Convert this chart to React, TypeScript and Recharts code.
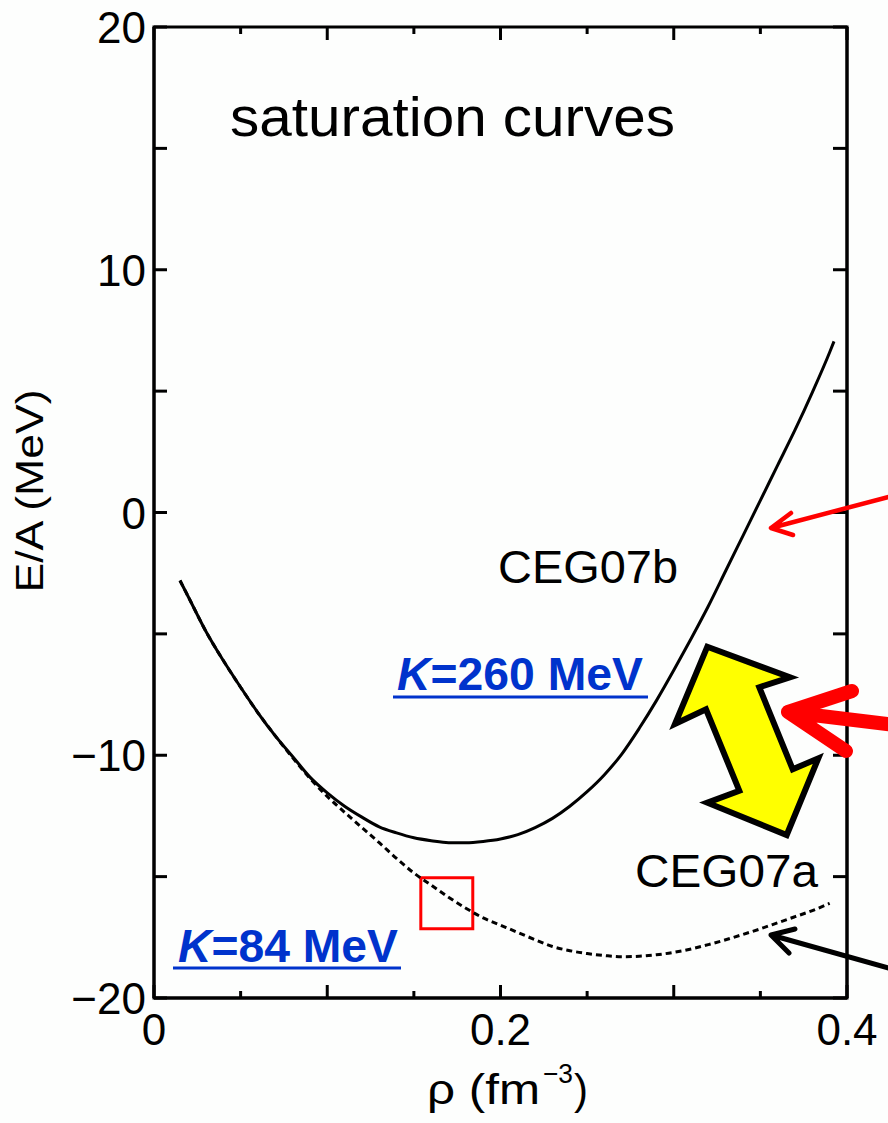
import React from "react";
import {
  LineChart,
  Line,
  XAxis,
  YAxis,
  ReferenceArea,
} from "recharts";

// ---- data ----
const rhoB = [0.015, 0.02, 0.03, 0.04, 0.05, 0.06, 0.07, 0.08, 0.09, 0.1, 0.11, 0.12, 0.13, 0.14, 0.15, 0.16, 0.17, 0.18, 0.19, 0.2, 0.21, 0.22, 0.23, 0.24, 0.25, 0.26, 0.27, 0.28, 0.29, 0.3, 0.31, 0.32, 0.33, 0.34, 0.35, 0.36, 0.37, 0.38, 0.39, 0.3925];
const eCEG07b = [-2.8, -3.5, -4.9, -6.1, -7.2, -8.25, -9.2, -10.05, -10.9, -11.55, -12.1, -12.55, -12.95, -13.2, -13.4, -13.52, -13.6, -13.6, -13.55, -13.45, -13.27, -12.98, -12.6, -12.1, -11.5, -10.8, -9.95, -8.9, -7.75, -6.5, -5.2, -3.85, -2.4, -0.95, 0.5, 1.95, 3.4, 4.95, 6.6, 7.05];

const rhoA = [0.015, 0.02, 0.03, 0.04, 0.05, 0.06, 0.07, 0.08, 0.09, 0.1, 0.11, 0.12, 0.13, 0.14, 0.15, 0.16, 0.17, 0.18, 0.19, 0.2, 0.21, 0.22, 0.23, 0.24, 0.25, 0.26, 0.27, 0.28, 0.29, 0.3, 0.31, 0.32, 0.33, 0.34, 0.35, 0.36, 0.37, 0.38, 0.39];
const eCEG07a = [-2.8, -3.5, -4.9, -6.1, -7.2, -8.25, -9.2, -10.1, -10.95, -11.7, -12.35, -12.98, -13.6, -14.25, -14.85, -15.35, -15.85, -16.3, -16.7, -17.0, -17.3, -17.6, -17.88, -18.05, -18.17, -18.25, -18.3, -18.28, -18.22, -18.12, -17.98, -17.8, -17.6, -17.38, -17.15, -16.9, -16.65, -16.4, -16.1];

const xTicks = [0, 0.05, 0.1, 0.15, 0.2, 0.25, 0.3, 0.35, 0.4];
const xLabelValues = [0, 0.2, 0.4];
const xLabelTexts = ["0", "0.2", "0.4"];
const yTicks = [-20, -15, -10, -5, 0, 5, 10, 15, 20];
const yLabelValues = [-20, -10, 0, 10, 20];
const yLabelTexts = ["\u221220", "\u221210", "0", "10", "20"];

const xDomain = [0, 0.4];
const yDomain = [-20, 20];

// saturation box (data coords)
const boxRho = [0.154, 0.184];
const boxE = [-15.05, -17.15];

const dataB = rhoB.map((r, i) => ({ rho: r, e: eCEG07b[i] }));
const dataA = rhoA.map((r, i) => ({ rho: r, e: eCEG07a[i] }));

// layout
const CHART_W = 888;
const CHART_H = 1123;
const MARGIN = { top: 27, right: 40, bottom: 65, left: 54 };
const X_AXIS_H = 60;
const PLOT_H = CHART_H - MARGIN.top - MARGIN.bottom - X_AXIS_H;

const FONT = "'Liberation Sans', Arial, Helvetica, sans-serif";
const BLUE = "#0033cc";

const near = (a: number, b: number) => Math.abs(a - b) < 1e-6;
const isMajorX = (v: number) => near(v * 10, Math.round(v * 10));

const BottomTick = (props: any) => {
  const { x, y, payload } = props;
  const v = payload.value as number;
  const len = isMajorX(v) ? 13 : 7;
  const li = xLabelValues.findIndex((lv) => near(lv, v));
  const yTop = y - PLOT_H;
  return (
    <g>
      <line x1={x} y1={y} x2={x} y2={y - len} stroke="#000" strokeWidth={3} />
      <line x1={x} y1={yTop} x2={x} y2={yTop + len} stroke="#000" strokeWidth={3} />
      {li >= 0 && (
        <text x={x} y={y + 47} textAnchor="middle" fontSize={44} fontFamily={FONT} fill="#000">
          {xLabelTexts[li]}
        </text>
      )}
    </g>
  );
};

const LeftTick = (props: any) => {
  const { x, y, payload } = props;
  const v = payload.value as number;
  const li = yLabelValues.findIndex((lv) => near(lv, v));
  return (
    <g>
      <line x1={x} y1={y} x2={x + 13} y2={y} stroke="#000" strokeWidth={3} />
      {li >= 0 && (
        <text x={x - 8} y={y + 16} textAnchor="end" fontSize={44} fontFamily={FONT} fill="#000">
          {yLabelTexts[li]}
        </text>
      )}
    </g>
  );
};

const RightTick = (props: any) => {
  const { x, y } = props;
  return <line x1={x} y1={y} x2={x - 14} y2={y} stroke="#000" strokeWidth={3} />;
};

const Overlay = () => (
  <svg
    width={CHART_W}
    height={CHART_H}
    style={{ position: "absolute", left: 0, top: 0, pointerEvents: "none" }}
  >
    <text x={230} y={136} fontSize={56} fontFamily={FONT} fill="#000" textLength={445} lengthAdjust="spacingAndGlyphs">
      saturation curves
    </text>
    <text x={498} y={583} fontSize={47} fontFamily={FONT} fill="#000" textLength={180} lengthAdjust="spacingAndGlyphs">
      CEG07b
    </text>
    <text x={635} y={887} fontSize={46} fontFamily={FONT} fill="#000" textLength={183} lengthAdjust="spacingAndGlyphs">
      CEG07a
    </text>

    {/* blue K labels */}
    <text x={397} y={690} fontSize={46} fontFamily={FONT} fontWeight="bold" fill={BLUE} textLength={246} lengthAdjust="spacingAndGlyphs">
      <tspan fontStyle="italic">K</tspan>=260 MeV
    </text>
    <line x1={393} y1={697} x2={648} y2={697} stroke={BLUE} strokeWidth={3} />
    <text x={178} y={962} fontSize={46} fontFamily={FONT} fontWeight="bold" fill={BLUE} textLength={220} lengthAdjust="spacingAndGlyphs">
      <tspan fontStyle="italic">K</tspan>=84 MeV
    </text>
    <line x1={173} y1={968} x2={401} y2={968} stroke={BLUE} strokeWidth={3} />

    {/* axis titles */}
    <text transform="translate(43,491) rotate(-90)" textAnchor="middle" fontSize={39} fontFamily={FONT} fill="#000" textLength={203} lengthAdjust="spacingAndGlyphs">
      E/A (MeV)
    </text>
    <text x={427} y={1104} fontSize={42} fontFamily={FONT} fill="#000" textLength={113} lengthAdjust="spacingAndGlyphs">
      ρ (fm
    </text>
    <text x={543} y={1083} fontSize={28} fontFamily={FONT} fill="#000" textLength={30} lengthAdjust="spacingAndGlyphs">
      −3
    </text>
    <text x={574} y={1104} fontSize={42} fontFamily={FONT} fill="#000">
      )
    </text>

    {/* yellow double arrow */}
    <polygon
      points="707.3,646.7 790,677.3 759.3,687.3 792.7,769.3 818.3,758.3 786.7,835 707.3,802.7 739.3,790.7 706,709.3 675,724"
      fill="#ffff00"
      stroke="#000"
      strokeWidth={6}
      strokeLinejoin="miter"
    />

    {/* thin red arrow */}
    <path d="M892,496 L771,528 M791,513 L771,528 L793,535" fill="none" stroke="#ff0000" strokeWidth={4.5} strokeLinecap="round" strokeLinejoin="round" />
    {/* thick red arrow */}
    <path d="M895,725 L788,712 M852,691 L788,712 L846,751" fill="none" stroke="#ff0000" strokeWidth={14} strokeLinecap="round" strokeLinejoin="round" />
    {/* black arrow */}
    <path d="M892,969 L771,935 M795,929 L771,935 L789,953" fill="none" stroke="#000" strokeWidth={5} strokeLinecap="round" strokeLinejoin="round" />
  </svg>
);

export default function App() {
  return (
    <div
      style={{
        position: "absolute",
        left: 0,
        top: 0,
        width: CHART_W,
        height: CHART_H,
        background: "#fdfefd",
        overflow: "hidden",
      }}
    >
      <LineChart width={CHART_W} height={CHART_H} margin={MARGIN}>
        <XAxis
          dataKey="rho"
          type="number"
          domain={xDomain}
          ticks={xTicks}
          interval={0}
          tickSize={0}
          tickMargin={0}
          tickLine={false}
          tick={BottomTick}
          height={X_AXIS_H}
          stroke="#000"
          strokeWidth={3}
          axisLine={{ stroke: "#000", strokeWidth: 3 }}
          allowDataOverflow
        />
        <YAxis
          type="number"
          domain={yDomain}
          ticks={yTicks}
          interval={0}
          tickSize={0}
          tickMargin={0}
          tickLine={false}
          tick={LeftTick}
          width={100}
          stroke="#000"
          strokeWidth={3}
          axisLine={{ stroke: "#000", strokeWidth: 3 }}
          allowDataOverflow
        />
        <YAxis
          yAxisId="right"
          orientation="right"
          type="number"
          domain={yDomain}
          ticks={yTicks}
          interval={0}
          tickSize={0}
          tickMargin={0}
          tickLine={false}
          tick={RightTick}
          width={1}
          stroke="#000"
          strokeWidth={3}
          axisLine={{ stroke: "#000", strokeWidth: 3 }}
          allowDataOverflow
        />
        <ReferenceArea
          x1={xDomain[0]}
          x2={xDomain[1]}
          y1={yDomain[0]}
          y2={yDomain[1]}
          fill="none"
          fillOpacity={0}
          stroke="#000"
          strokeWidth={3}
          ifOverflow="visible"
        />
        <ReferenceArea
          x1={boxRho[0]}
          x2={boxRho[1]}
          y1={boxE[0]}
          y2={boxE[1]}
          fill="none"
          fillOpacity={0}
          stroke="#ff0000"
          strokeWidth={3}
          ifOverflow="visible"
        />
        <Line
          data={dataB}
          dataKey="e"
          type="monotone"
          stroke="#000"
          strokeWidth={3}
          dot={false}
          isAnimationActive={false}
        />
        <Line
          data={dataA}
          dataKey="e"
          type="monotone"
          stroke="#000"
          strokeWidth={3}
          strokeDasharray="6 4"
          dot={false}
          isAnimationActive={false}
        />
      </LineChart>
      <Overlay />
    </div>
  );
}
